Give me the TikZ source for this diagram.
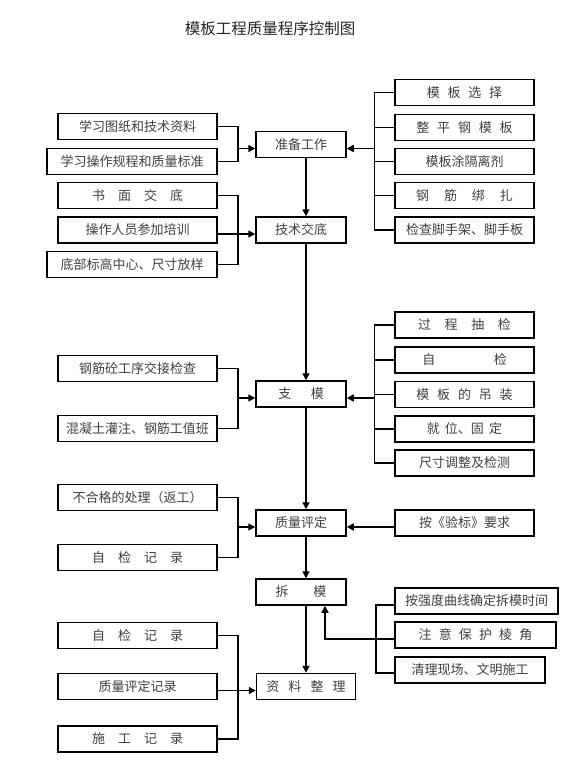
\documentclass[tikz,border=0pt]{standalone}
\usepackage{fontspec}
\setmainfont{Noto Sans CJK SC}
\usetikzlibrary{arrows.meta}
\newcommand{\hgap}[1]{\hspace{#1em}}
\begin{document}
\begin{tikzpicture}[x=1pt,y=-1pt,
  box/.style={draw, line width=1.5pt, inner sep=0pt, font=\fontsize{13}{13}\selectfont, text=black!75, minimum height=26pt},
  lbox/.style={box, minimum width=159pt},
  wbox/.style={box, minimum width=170pt},
  cbox/.style={box, minimum width=90pt},
  rbox/.style={box, minimum width=139pt},
  ln/.style={line width=1.5pt},
  arr/.style={line width=1.5pt, -{Triangle[length=7pt,width=7pt]}}]
\useasboundingbox (0,0) rectangle (575,766);

\node[font=\fontsize{15.5}{15.5}\selectfont, text=black!85] (title) at (270,29) {模板工程质量程序控制图};

% central column
\node[cbox] (zb) at (301,144.5) {准备工作};
\node[cbox] (jd) at (301,230) {技术交底};
\node[cbox] (zm) at (301,394) {支\hgap{1.5}模};
\node[cbox] (pd) at (301,523) {质量评定};
\node[cbox] (cm) at (301,592) {拆\hgap{1.9}模};
\node[box, minimum width=99pt] (zl) at (306,686.5) {资\hgap{0.7}料\hgap{0.7}整\hgap{0.7}理};

% left column
\node[lbox] (L1) at (137.5,126.5) {学习图纸和技术资料};
\node[wbox] (L2) at (132,161.5) {学习操作规程和质量标准};
\node[lbox] (L3) at (137.5,195.5) {书\hgap{1}面\hgap{1}交\hgap{1}底};
\node[lbox] (L4) at (137.5,230) {操作人员参加培训};
\node[wbox] (L5) at (132,264.5) {底部标高中心、尺寸放样};
\node[lbox] (L6) at (137.5,368.5) {钢筋砼工序交接检查};
\node[lbox] (L7) at (137.5,428.5) {混凝土灌注、钢筋工值班};
\node[lbox] (L8) at (137.5,497.5) {不合格的处理（返工）};
\node[lbox] (L9) at (137.5,557.5) {自\hgap{1}检\hgap{1}记\hgap{1}录};
\node[lbox] (L10) at (137.5,635.5) {自\hgap{1}检\hgap{1}记\hgap{1}录};
\node[lbox] (L11) at (137.5,686.5) {质量评定记录};
\node[lbox] (L12) at (137.5,739) {施\hgap{1}工\hgap{1}记\hgap{1}录};

% right column
\node[rbox] (R1) at (464.5,92.5) {模\hgap{0.6}板\hgap{0.6}选\hgap{0.6}择};
\node[rbox] (R2) at (464.5,127.5) {整\hgap{0.6}平\hgap{0.6}钢\hgap{0.6}模\hgap{0.6}板};
\node[rbox] (R3) at (464.5,161.5) {模板涂隔离剂};
\node[rbox] (R4) at (464.5,195.5) {钢\hgap{1.15}筋\hgap{1.15}绑\hgap{1.15}扎};
\node[rbox] (R5) at (464.5,230) {检查脚手架、脚手板};
\node[rbox] (R6) at (464.5,325) {过\hgap{1.05}程\hgap{1.05}抽\hgap{1.05}检};
\node[rbox] (R7) at (464.5,360) {自\hgap{4.5}检};
\node[rbox] (R8) at (464.5,394.5) {模\hgap{0.6}板\hgap{0.6}的\hgap{0.6}吊\hgap{0.6}装};
\node[rbox] (R9) at (464.5,429) {就\hgap{0.4}位、固\hgap{0.4}定};
\node[rbox] (R10) at (464.5,463) {尺寸调整及检测};
\node[rbox] (R11) at (464.5,523) {按《验标》要求};
\node[box, minimum width=163pt] (R12) at (476.5,601) {按强度曲线确定拆模时间};
\node[box, minimum width=161pt] (R13) at (475.5,635) {注\hgap{0.55}意\hgap{0.55}保\hgap{0.55}护\hgap{0.55}棱\hgap{0.55}角};
\node[box, minimum width=150pt] (R14) at (470,670) {清理现场、文明施工};

% main chain
\draw[arr] ([xshift=5pt]zb.south) -- ([xshift=5pt]jd.north);
\draw[arr] ([xshift=5pt]jd.south) -- ([xshift=5pt]zm.north);
\draw[arr] ([xshift=5pt]zm.south) -- ([xshift=5pt]pd.north);
\draw[arr] ([xshift=5pt]pd.south) -- ([xshift=5pt]cm.north);
\draw[arr] ([xshift=5pt]cm.south) -- (zl.north);

% left brackets
\draw[ln] (L1.east) -- ++(20,0) |- (L2.east);
\coordinate (la1) at (237,148.5);
\draw[arr] (la1) -- (la1 -| zb.west);

\draw[ln] (L3.east) -- ++(20,0) |- (L5.east);
\draw[arr] ([yshift=-4pt]L4.east) -- ([yshift=-4pt]jd.west);

\draw[ln] (L6.east) -- ++(20,0) |- (L7.east);
\coordinate (la3) at (237,398);
\draw[arr] (la3) -- (la3 -| zm.west);

\draw[ln] (L8.east) -- ++(20,0) |- (L9.east);
\coordinate (la4) at (237,527);
\draw[arr] (la4) -- (la4 -| pd.west);

\draw[ln] (L10.east) -- ++(20,0) |- (L12.east);
\draw[arr] ([yshift=-4pt]L11.east) -- ([yshift=-4pt]zl.west);

% right brackets
\draw[ln] (R1.west) -- ++(-20,0) |- (R5.west);
\foreach \n in {R2,R3,R4} \draw[ln] (\n.west) -- ++(-20,0);
\coordinate (ra1) at (375,148.5);
\draw[arr] (ra1) -- (ra1 -| zb.east);

\draw[ln] (R6.west) -- ++(-20,0) |- (R10.west);
\foreach \n in {R7,R8,R9} \draw[ln] (\n.west) -- ++(-20,0);
\coordinate (ra2) at (375,398);
\draw[arr] (ra2) -- (ra2 -| zm.east);

\draw[arr] ([yshift=-4pt]R11.west) -- ([yshift=-4pt]pd.east);

\coordinate (rb3t) at (376,605);
\coordinate (rb3b) at (376,673);
\draw[ln] (rb3t -| R12.west) -- (rb3t) -- (rb3b) -- (rb3b -| R14.west);
\coordinate (c1) at (325,639);
\draw[arr] (c1 -| R13.west) -- (c1) -- (c1 |- cm.south);
\end{tikzpicture}
\end{document}
